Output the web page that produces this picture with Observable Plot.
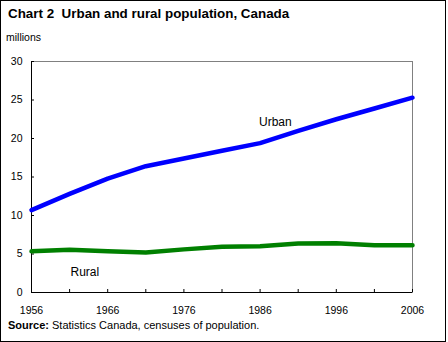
<!DOCTYPE html>
<html><head><meta charset="utf-8">
<script src="https://cdn.jsdelivr.net/npm/d3@7"></script>
<script src="https://cdn.jsdelivr.net/npm/@observablehq/plot@0.6"></script>
<style>
body{margin:0;background:#fff;}
#wrap{position:relative;width:446px;height:342px;border:1px solid #000;box-sizing:border-box;font-family:Arial,"Liberation Sans",sans-serif;color:#000;overflow:hidden;background:#fff}
#title{position:absolute;left:7px;top:5px;font-weight:bold;font-size:13.4px;line-height:16px;white-space:nowrap}
#unit{position:absolute;left:5px;top:29px;font-size:10.5px;line-height:14px}
#chart{position:absolute;left:0;top:43px}
#source{position:absolute;left:7px;top:317px;font-size:11px;line-height:14px;white-space:nowrap}
</style></head><body>
<div id="wrap">
<div id="title">Chart 2&nbsp; Urban and rural population, Canada</div>
<div id="unit">millions</div>
<div id="chart"></div>
<div id="source"><b>Source:</b> Statistics Canada, censuses of population.</div>
</div>
<script>
const years = [1956, 1961, 1966, 1971, 1976, 1981, 1986, 1991, 1996, 2001, 2006];
const urban = [10.7, 12.8, 14.8, 16.4, 17.4, 18.4, 19.4, 21.0, 22.5, 23.9, 25.3];
const rural = [5.35, 5.55, 5.35, 5.2, 5.6, 5.95, 6.0, 6.35, 6.4, 6.15, 6.15];
const xTickLabels = [1956, 1966, 1976, 1986, 1996, 2006];
const xTickMarks = [1956, 1961, 1966, 1971, 1976, 1981, 1986, 1991, 1996, 2001, 2006];
const yTicks = [0, 5, 10, 15, 20, 25, 30];
const seriesNames = ["Urban", "Rural"];
const labelX = [1988, 1963];
const labelY = [22.1, 2.6];

const urbanData = years.map((x, i) => ({x, y: urban[i]}));
const ruralData = years.map((x, i) => ({x, y: rural[i]}));
const labels = seriesNames.map((t, i) => ({t, x: labelX[i], y: labelY[i]}));

const chart = Plot.plot({
  width: 444,
  height: 272,
  marginLeft: 30,
  marginRight: 33,
  marginTop: 17,
  marginBottom: 24,
  style: {fontFamily: "Arial, 'Liberation Sans', sans-serif", fontSize: "10.5px", background: "transparent", color: "#000", overflow: "visible"},
  x: {domain: [1956, 2006]},
  y: {domain: [0, 30]},
  marks: [
    Plot.frame({stroke: "#808080"}),
    Plot.ruleY([0], {stroke: "#000"}),
    Plot.ruleX([1956], {stroke: "#000"}),
    Plot.axisY({ticks: yTicks, tickSize: 0, tickPadding: 9, label: null, tickFormat: d => String(d)}),
    Plot.axisY({ticks: yTicks, tickSize: 3, dx: 3, fill: "none", label: null}),
    Plot.axisX({ticks: xTickLabels, tickSize: 0, tickPadding: 14, label: null, tickFormat: d => String(d)}),
    Plot.axisX({ticks: xTickMarks, tickSize: 3, dy: -3, fill: "none", label: null}),
    Plot.line(urbanData, {x: "x", y: "y", stroke: "#0000ff", strokeWidth: 4.5}),
    Plot.line(ruralData, {x: "x", y: "y", stroke: "#008000", strokeWidth: 4.5}),
    Plot.text(labels, {x: "x", y: "y", text: "t", fontSize: 12, fill: "#000"})
  ]
});
document.getElementById("chart").appendChild(chart);
</script>
</body></html>
